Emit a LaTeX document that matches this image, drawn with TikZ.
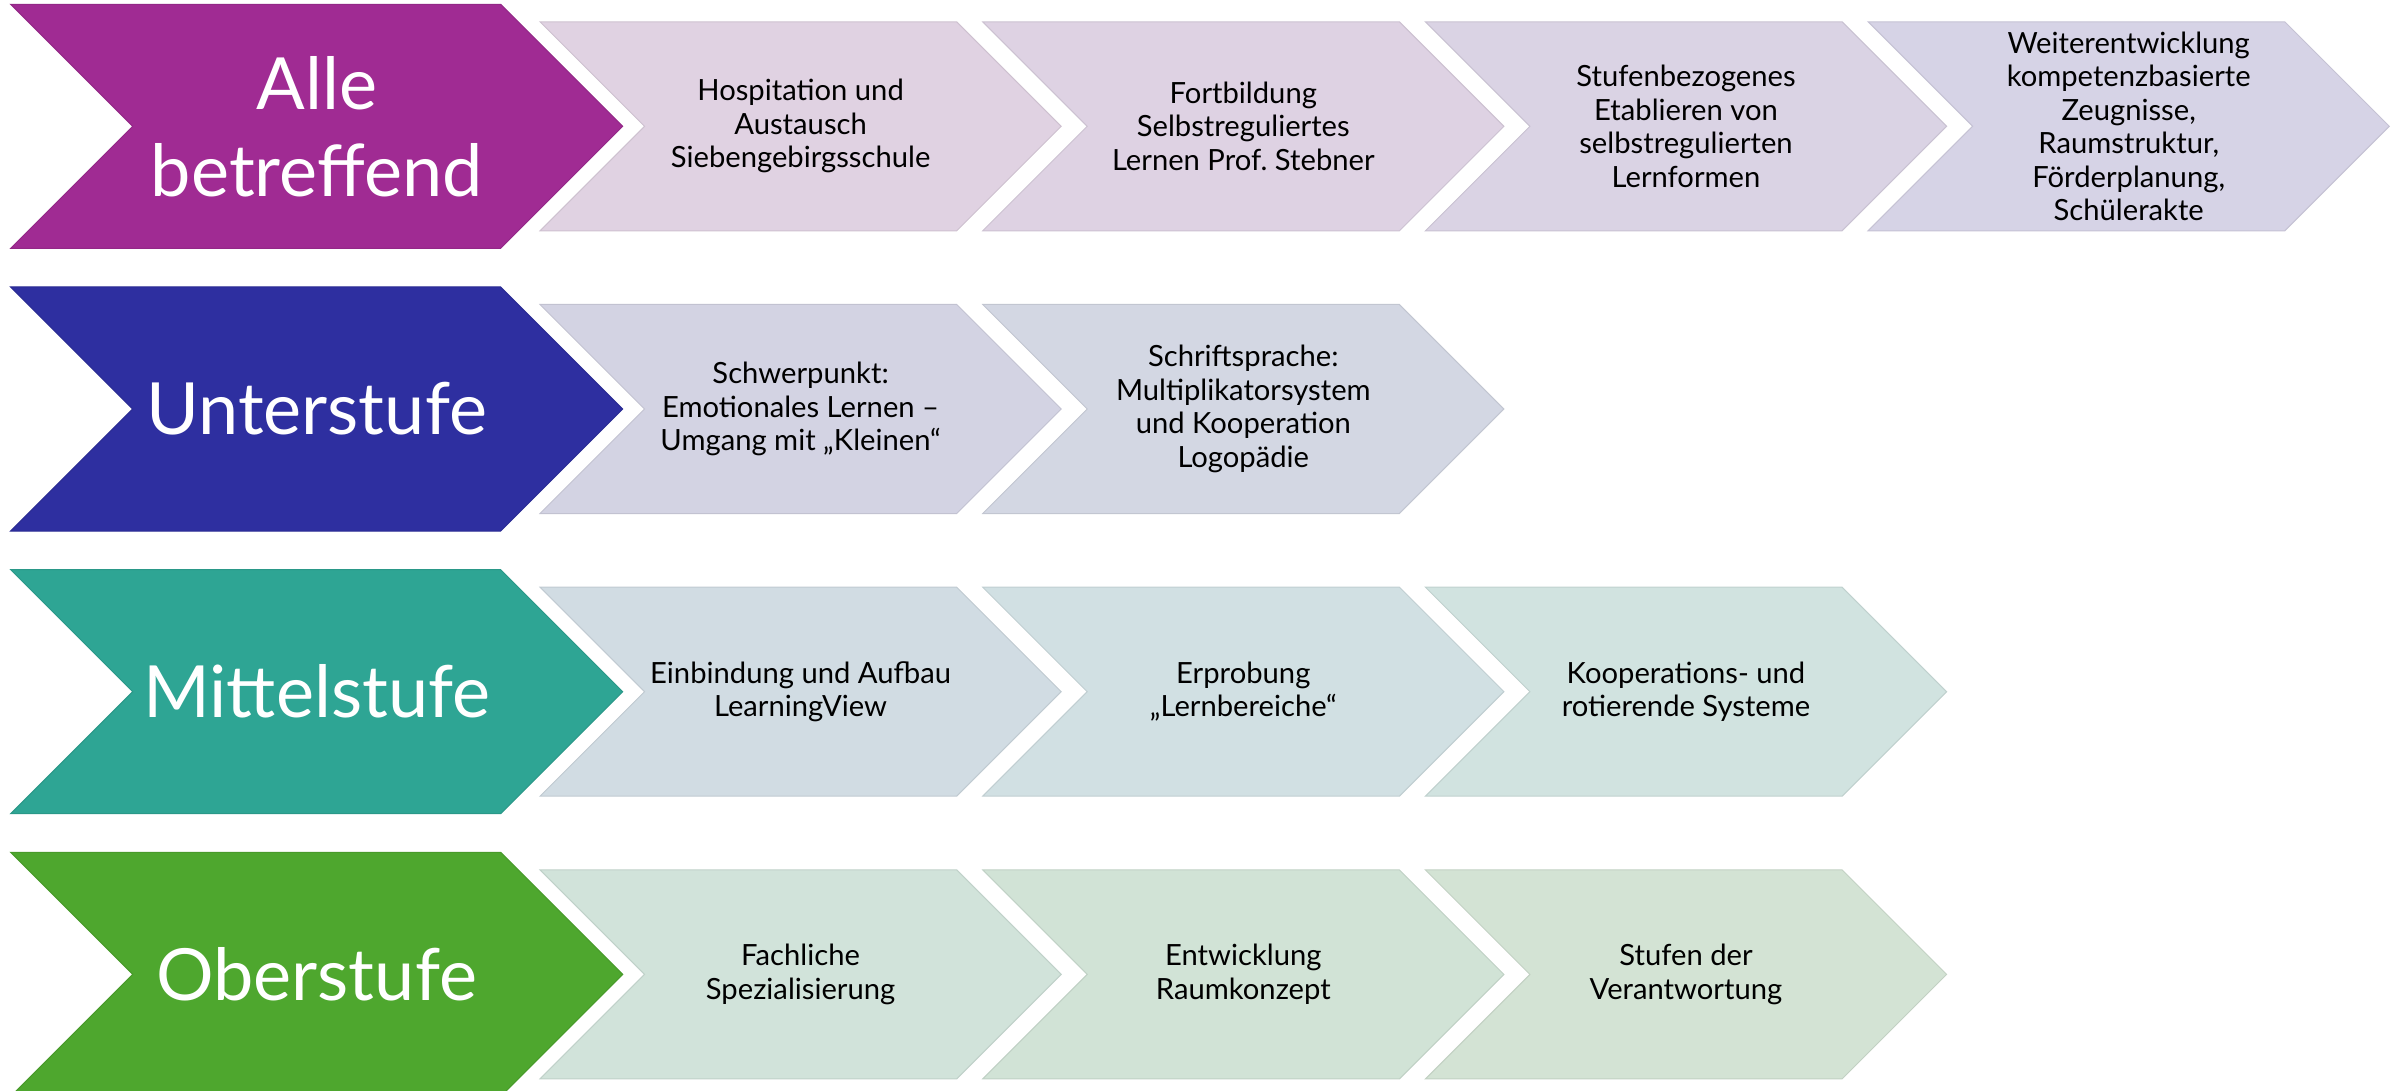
\documentclass[tikz,border=0pt]{standalone}
\usepackage{fontspec}
\setmainfont{Lato}
\frenchspacing
\definecolor{cPurple}{HTML}{A02B93}
\definecolor{cBlue}{HTML}{2E2FA0}
\definecolor{cTeal}{HTML}{2EA594}
\definecolor{cGreen}{HTML}{4EA72E}
\definecolor{sA1}{HTML}{E0D2E2}
\definecolor{sA2}{HTML}{DED2E3}
\definecolor{sA3}{HTML}{DAD3E4}
\definecolor{sA4}{HTML}{D6D3E6}
\definecolor{sB1}{HTML}{D3D3E3}
\definecolor{sB2}{HTML}{D3D7E3}
\definecolor{sC1}{HTML}{D1DCE3}
\definecolor{sC2}{HTML}{D1E0E3}
\definecolor{sC3}{HTML}{D1E3E0}
\definecolor{sD1}{HTML}{D1E3DA}
\definecolor{sD2}{HTML}{D1E3D6}
\definecolor{sD3}{HTML}{D3E3D4}
% #1 left x, #2 top y, #3 width to top-right corner, #4 half height, #5 colour
\newcommand{\chevshape}[5]{%
  \path[fill=#5,draw=#5!92!black,line width=0.5pt,line join=miter]
    (#1,#2) -- ++(#3,0) -- ++(#4,#4) -- ++(-#4,#4) -- ++(-#3,0) -- ++(#4,-#4) -- cycle;}
\newcommand{\bigchev}[2]{\chevshape{10.7}{#1}{490}{122}{#2}}
\newcommand{\smallchev}[3]{\chevshape{540+442.7*#1}{#2+17.5}{416.7}{104.5}{#3}}
\tikzset{
  bigtext/.style={text=white,align=center,font=\fontsize{36}{43.5}\selectfont,inner sep=0pt},
  smalltext/.style={text=black,align=center,font=\fontsize{14.6}{16.7}\selectfont,inner sep=0pt}
}
\begin{document}
\begin{tikzpicture}[x=0.5pt,y=-0.5pt]
\useasboundingbox (0,0) rectangle (2399,1091);
\clip (0,0) rectangle (2399,1091);
% row 1
\bigchev{4.3}{cPurple}
\smallchev{0}{4.3}{sA1}
\smallchev{1}{4.3}{sA2}
\smallchev{2}{4.3}{sA3}
\smallchev{3}{4.3}{sA4}
\node[bigtext] (r1big) at (316.7,126.3) {Alle\\betreffend};
\node[smalltext] (r1a) at (800.6,126.3) {Hospitation und\\Austausch\\Siebengebirgsschule};
\node[smalltext] (r1b) at (1243.3,126.3) {Fortbildung\\Selbstreguliertes\\Lernen Prof. Stebner};
\node[smalltext] (r1c) at (1686.0,126.3) {Stufenbezogenes\\Etablieren von\\selbstregulierten\\Lernformen};
\node[smalltext] (r1d) at (2128.7,126.3) {Weiterentwicklung\\kompetenzbasierte\\Zeugnisse,\\Raumstruktur,\\Förderplanung,\\Schülerakte};
% row 2
\bigchev{287}{cBlue}
\smallchev{0}{287}{sB1}
\smallchev{1}{287}{sB2}
\node[bigtext] (r2big) at (316.7,409) {Unterstufe};
\node[smalltext] (r2a) at (800.6,409) {Schwerpunkt:\\Emotionales Lernen –\\Umgang mit „Kleinen“};
\node[smalltext] (r2b) at (1243.3,409) {Schriftsprache:\\Multiplikatorsystem\\und Kooperation\\Logopädie};
% row 3
\bigchev{569.7}{cTeal}
\smallchev{0}{569.7}{sC1}
\smallchev{1}{569.7}{sC2}
\smallchev{2}{569.7}{sC3}
\node[bigtext] (r3big) at (316.7,691.7) {Mittelstufe};
\node[smalltext] (r3a) at (800.6,691.7) {Einbindung und Aufbau\\LearningView};
\node[smalltext] (r3b) at (1243.3,691.7) {Erprobung\\„Lernbereiche“};
\node[smalltext] (r3c) at (1686.0,691.7) {Kooperations- und\\rotierende Systeme};
% row 4
\bigchev{852.4}{cGreen}
\smallchev{0}{852.4}{sD1}
\smallchev{1}{852.4}{sD2}
\smallchev{2}{852.4}{sD3}
\node[bigtext] (r4big) at (316.7,974.4) {Oberstufe};
\node[smalltext] (r4a) at (800.6,974.4) {Fachliche\\Spezialisierung};
\node[smalltext] (r4b) at (1243.3,974.4) {Entwicklung\\Raumkonzept};
\node[smalltext] (r4c) at (1686.0,974.4) {Stufen der\\Verantwortung};
\end{tikzpicture}
\end{document}
